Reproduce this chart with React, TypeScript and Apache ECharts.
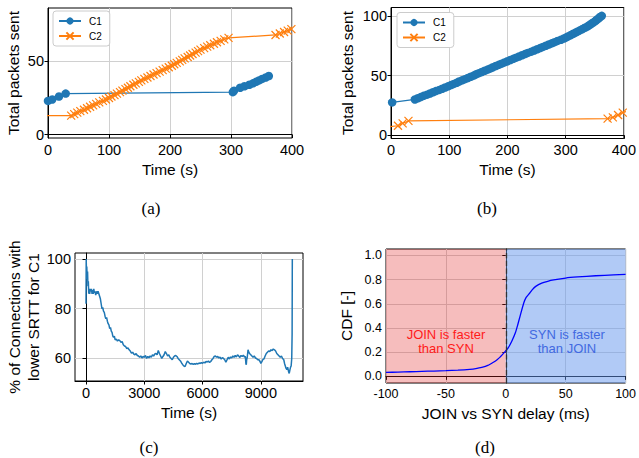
import React, { useEffect, useRef } from "react";
import * as echarts from "echarts";

// (a) packets over time
const aC1: [number, number][] = [[0,23],[7,24],[18,26],[29,28],[303,29],[305,30],[315,32],[322,33],[330,34],[336,35],[341,36],[346,37],[351,38],[357,39],[362,40]];
const aC2: [number, number][] = [[-5,13],[38,13],[43,14],[48,15],[53,16],[59,17],[64,18],[69,19],[74,20],[79,21],[84,22],[90,23],[95,24],[100,25],[104,26],[109,27],[113,28],[118,29],[122,30],[127,31],[131,32],[135,33],[140,34],[144,35],[149,36],[153,37],[158,38],[163,39],[168,40],[173,41],[178,42],[183,43],[188,44],[193,45],[198,46],[203,47],[207,48],[211,49],[216,50],[220,51],[224,52],[229,53],[233,54],[237,55],[242,56],[246,57],[250,58],[256,59],[261,60],[266,61],[272,62],[277,63],[283,64],[289,65],[296,66],[373,68],[380,69],[387,70],[393,71],[399,72]];
// (b)
const bC1: [number, number][] = [[2,27.5],[41,30],[46,31],[51,32],[56,33],[62,34],[67,35],[72,36],[77,37],[83,38],[88,39],[93,40],[98,41],[103,42],[108,43],[113,44],[117,45],[122,46],[127,47],[132,48],[137,49],[142,50],[146,51],[151,52],[156,53],[161,54],[166,55],[171,56],[175,57],[180,58],[185,59],[190,60],[195,61],[200,62],[205,63],[210,64],[215,65],[220,66],[225,67],[230,68],[235,69],[241,70],[246,71],[251,72],[256,73],[261,74],[266,75],[271,76],[276,77],[281,78],[286,79],[292,80],[297,81],[301,82],[305,83],[309,84],[313,85],[317,86],[321,87],[325,88],[329,89],[333,90],[337,91],[340,92],[343,93],[346,94],[349,95],[352,96],[354,97],[357,98],[359,99],[362,100]];
const bC2: [number, number][] = [[-5,7],[12,8],[20,10],[30,12],[372,14],[381,15],[390,17],[398,19],[405,20]];
// (c) % of connections with lower SRTT for C1
const cPct: [number, number][] = [[0,82],[10,100],[25,94],[40,97],[60,92],[80,95],[100,89],[120,91],[140,86],[160,88],[190,86],[220,88],[250,87],[280,88],[310,86],[340,87.5],[370,86],[400,88],[430,86.5],[460,87],[500,85.5],[540,87],[580,86],[620,87],[660,86],[700,85],[740,84],[780,82],[820,80],[860,80.5],[900,79],[940,78.5],[980,77],[1020,76],[1060,76.5],[1100,75],[1140,74],[1180,73.5],[1220,72],[1260,72.5],[1300,71],[1340,70.5],[1380,69],[1420,68.5],[1460,69],[1500,67.5],[1560,67.8],[1620,67],[1680,67.5],[1740,67.2],[1800,66.5],[1860,66.8],[1920,65.5],[1980,65],[2040,64.8],[2100,64],[2160,64.3],[2220,63.5],[2280,63],[2340,62.2],[2400,62.5],[2460,61.8],[2520,61.5],[2580,62],[2640,61.2],[2700,61],[2760,60.5],[2820,61],[2880,60.2],[2940,60.8],[3000,60.5],[3060,61.2],[3120,60],[3180,60.8],[3240,60.3],[3300,61],[3360,60.5],[3420,61.5],[3480,61],[3540,61.8],[3600,62],[3660,61.5],[3720,63.2],[3780,62],[3840,61],[3900,60],[3960,60.8],[4020,61.5],[4080,62.8],[4140,62],[4200,61],[4260,61.5],[4320,60.5],[4380,60],[4440,59.5],[4500,60.5],[4560,61],[4620,61.2],[4680,60.8],[4740,60],[4800,59.5],[4860,59],[4920,58.2],[4980,57.5],[5040,57],[5100,56.8],[5160,58],[5220,59],[5280,58.5],[5340,58],[5400,57.8],[5460,58],[5520,57.6],[5580,57.9],[5640,57.7],[5700,58],[5760,57.8],[5820,58.2],[5880,58],[5940,58.3],[6000,58.1],[6060,58.5],[6120,58.2],[6180,58.8],[6240,58.6],[6300,59],[6360,58.4],[6420,58.8],[6480,59.5],[6540,60],[6600,60.8],[6660,61],[6720,60.5],[6780,60.8],[6840,60.2],[6900,60.5],[6960,59.8],[7020,60.3],[7080,60],[7140,59.5],[7200,58.5],[7260,59.5],[7320,60.5],[7380,59.8],[7440,60.6],[7500,60.2],[7560,61],[7620,60.5],[7680,61.2],[7740,60.6],[7800,61.5],[7860,61],[7920,60.4],[7980,61.2],[8040,60.8],[8100,61.3],[8160,60.5],[8200,60.9],[8230,58],[8250,57.5],[8270,59.5],[8300,60.5],[8340,63.5],[8380,62.5],[8420,62],[8480,61.5],[8540,61],[8600,60.5],[8660,61],[8720,60.2],[8780,60],[8840,59.5],[8900,59.5],[8960,58.8],[9000,58],[9040,58.5],[9100,59.5],[9160,59.8],[9220,61],[9280,62],[9340,62.5],[9400,63],[9460,62.8],[9520,63.5],[9580,63.2],[9640,63.8],[9700,63.5],[9760,63],[9820,62],[9880,61.5],[9940,61],[10000,60.5],[10060,61],[10120,60],[10180,59.5],[10220,58],[10260,57],[10300,56],[10340,55.5],[10380,56.5],[10420,55],[10460,54],[10500,55.5],[10530,56.5],[10560,57],[10590,60],[10610,70],[10620,100]];
// (d) CDF of JOIN vs SYN delay
const dCdf: [number, number][] = [[-100,0.033],[-90,0.035],[-80,0.038],[-70,0.041],[-60,0.044],[-50,0.047],[-40,0.051],[-30,0.058],[-25,0.064],[-20,0.074],[-15,0.09],[-10,0.119],[-7,0.14],[-5,0.157],[-3,0.178],[-1,0.2],[0,0.212],[2,0.235],[5,0.29],[8,0.36],[10,0.427],[12,0.5],[15,0.606],[17,0.653],[20,0.689],[22,0.715],[25,0.744],[30,0.771],[35,0.786],[40,0.797],[50,0.813],[60,0.822],[75,0.832],[90,0.839],[100,0.843]];

const abXTicks = [0, 100, 200, 300, 400];
const aYTicks = [0, 50];
const bYTicks = [0, 50, 100];
const cXTicks = [0, 3000, 6000, 9000];
const cYTicks = [60, 80, 100];
const dXTicks = [-100, -50, 0, 50, 100];
const dYTicks = [0, 0.2, 0.4, 0.6, 0.8, 1.0];

const FONT = "Liberation Sans";
const BLUE = "#1f77b4";
const ORANGE = "#ff7f0e";
const XSYM = "path://M0,0L10,10M10,0L0,10";

const plain = (v: number) => String(v);

function xAx(grid: number, min: number, max: number, ticks: number[], name: string, gap: number, fs: number, fmt: (v: number) => string = plain) {
  return {
    type: "value", gridIndex: grid, min, max,
    name, nameLocation: "middle", nameGap: gap,
    nameTextStyle: { fontFamily: FONT, fontSize: 15.5, fontWeight: "normal", color: "#000" },
    axisLine: { show: true, lineStyle: { color: "#000", width: 1 } },
    axisTick: { show: true, inside: false, length: 3.5, customValues: ticks, lineStyle: { color: "#000" } },
    axisLabel: { customValues: ticks, fontFamily: FONT, fontSize: fs, fontWeight: "normal", color: "#000", margin: 4, formatter: fmt },
    splitLine: { show: true, lineStyle: { color: "#d0d0d0", width: 1 } },
  };
}
function yAx(grid: number, min: number, max: number, ticks: number[], name: string, gap: number, fs: number, fmt: (v: number) => string = plain) {
  return {
    type: "value", gridIndex: grid, min, max,
    name, nameLocation: "middle", nameGap: gap, nameRotate: 90,
    nameTextStyle: { fontFamily: FONT, fontSize: 15.5, fontWeight: "normal", color: "#000", lineHeight: 19 },
    axisLine: { show: true, lineStyle: { color: "#000", width: 1 } },
    axisTick: { show: true, inside: false, length: 3.5, customValues: ticks, lineStyle: { color: "#000" } },
    axisLabel: { customValues: ticks, fontFamily: FONT, fontSize: fs, fontWeight: "normal", color: "#000", margin: 4, formatter: fmt },
    splitLine: { show: true, lineStyle: { color: "#d0d0d0", width: 1 } },
  };
}

function legend(left: number, top: number) {
  return {
    left, top, orient: "vertical", data: ["C1", "C2"],
    backgroundColor: "#fff", borderColor: "#ccc", borderWidth: 1, borderRadius: 3,
    padding: [5, 8, 5, 5], itemGap: 5, itemWidth: 22, itemHeight: 9,
    textStyle: { fontFamily: FONT, fontSize: 10, color: "#000", padding: [0, 0, 0, 3] },
  };
}

export default function App() {
  const ref = useRef<HTMLDivElement>(null);
  useEffect(() => {
    if (!ref.current) return;
    const chart = echarts.init(ref.current, undefined, { renderer: "svg" });
    const c1 = (xi: number, data: [number, number][]) => ({
      type: "line", name: "C1", xAxisIndex: xi, yAxisIndex: xi, data,
      symbol: "circle", symbolSize: 8.5, showSymbol: true, clip: true,
      lineStyle: { color: BLUE, width: 1.2 }, itemStyle: { color: BLUE },
    });
    const c2 = (xi: number, data: [number, number][]) => ({
      type: "line", name: "C2", xAxisIndex: xi, yAxisIndex: xi, data,
      symbol: XSYM, symbolSize: 8, showSymbol: true, clip: true,
      lineStyle: { color: ORANGE, width: 1.2 },
      itemStyle: { color: ORANGE, borderColor: ORANGE, borderWidth: 1.2 },
    });
    const cap = (x: number, y: number, t: string) => ({
      type: "text", x, y,
      style: { text: t, fontFamily: "Liberation Serif", fontSize: 17, fill: "#000", align: "center", verticalAlign: "middle" },
    });
    const ann = (x: number, y: number, t: string, color: string) => ({
      type: "text", x, y, z: 100,
      style: { text: t, fontFamily: FONT, fontSize: 13, lineHeight: 14, fill: color, align: "center", verticalAlign: "middle" },
    });
    chart.setOption({
      animation: false,
      grid: [
        { left: 48, top: 8, width: 244, height: 130, show: true, borderColor: "#000", borderWidth: 1, backgroundColor: "transparent" },
        { left: 391, top: 7.5, width: 235, height: 131, show: true, borderColor: "#000", borderWidth: 1, backgroundColor: "transparent" },
        { left: 75, top: 253, width: 228, height: 128, show: true, borderColor: "#000", borderWidth: 1, backgroundColor: "transparent" },
        { left: 386, top: 249, width: 242, height: 134, show: true, borderColor: "#000", borderWidth: 1, backgroundColor: "transparent" },
      ],
      xAxis: [
        xAx(0, 0, 400, abXTicks, "Time (s)", 23, 14.5),
        xAx(1, 0, 400, abXTicks, "Time (s)", 23, 14.5),
        xAx(2, -567, 11170, cXTicks, "Time (s)", 23, 14.5),
        xAx(3, -100, 100, dXTicks, "JOIN vs SYN delay (ms)", 22, 12.5),
      ],
      yAxis: [
        yAx(0, -2.3, 86.4, aYTicks, "Total packets sent", 25, 14.5),
        yAx(1, -2.7, 107, bYTicks, "Total packets sent", 34, 14.5),
        yAx(2, 50.95, 102.4, cYTicks, "% of Connections with\nlower SRTT for C1", 30, 14.5),
        yAx(3, -0.055, 1.053, dYTicks, "CDF [-]", 30, 12.5, (v: number) => v.toFixed(1)),
      ],
      legend: [legend(53, 11), legend(397, 12.5)],
      series: [
        c1(0, aC1), c2(0, aC2),
        c1(1, bC1), c2(1, bC2),
        {
          type: "line", xAxisIndex: 2, yAxisIndex: 2, data: cPct, showSymbol: false, symbol: "none",
          lineStyle: { color: BLUE, width: 1.5 }, clip: true,
        },
        {
          type: "line", xAxisIndex: 3, yAxisIndex: 3, data: dCdf, showSymbol: false, symbol: "none", smooth: 0.2,
          lineStyle: { color: "#0000ff", width: 1.3 }, clip: true,
          markArea: {
            silent: true,
            data: [
              [{ xAxis: -100, itemStyle: { color: "rgba(225,38,38,0.3)" } }, { xAxis: 0 }],
              [{ xAxis: 0, itemStyle: { color: "rgba(100,149,237,0.5)" } }, { xAxis: 100 }],
            ],
          },
          markLine: {
            silent: true, symbol: "none", label: { show: false },
            lineStyle: { color: "#333", type: "dashed", width: 1.3 },
            data: [{ xAxis: 0 }],
          },
        },
      ],
      graphic: [
        cap(151, 208, "(a)"), cap(487, 208, "(b)"), cap(149, 447, "(c)"), cap(485, 447, "(d)"),
        ann(446, 341, "JOIN is faster\nthan SYN", "#ff1a1a"),
        ann(567, 341, "SYN is faster\nthan JOIN", "#4169e1"),
      ],
    });
    return () => chart.dispose();
  }, []);
  return <div ref={ref} style={{ position: "absolute", left: 0, top: 0, width: 639, height: 458 }} />;
}
